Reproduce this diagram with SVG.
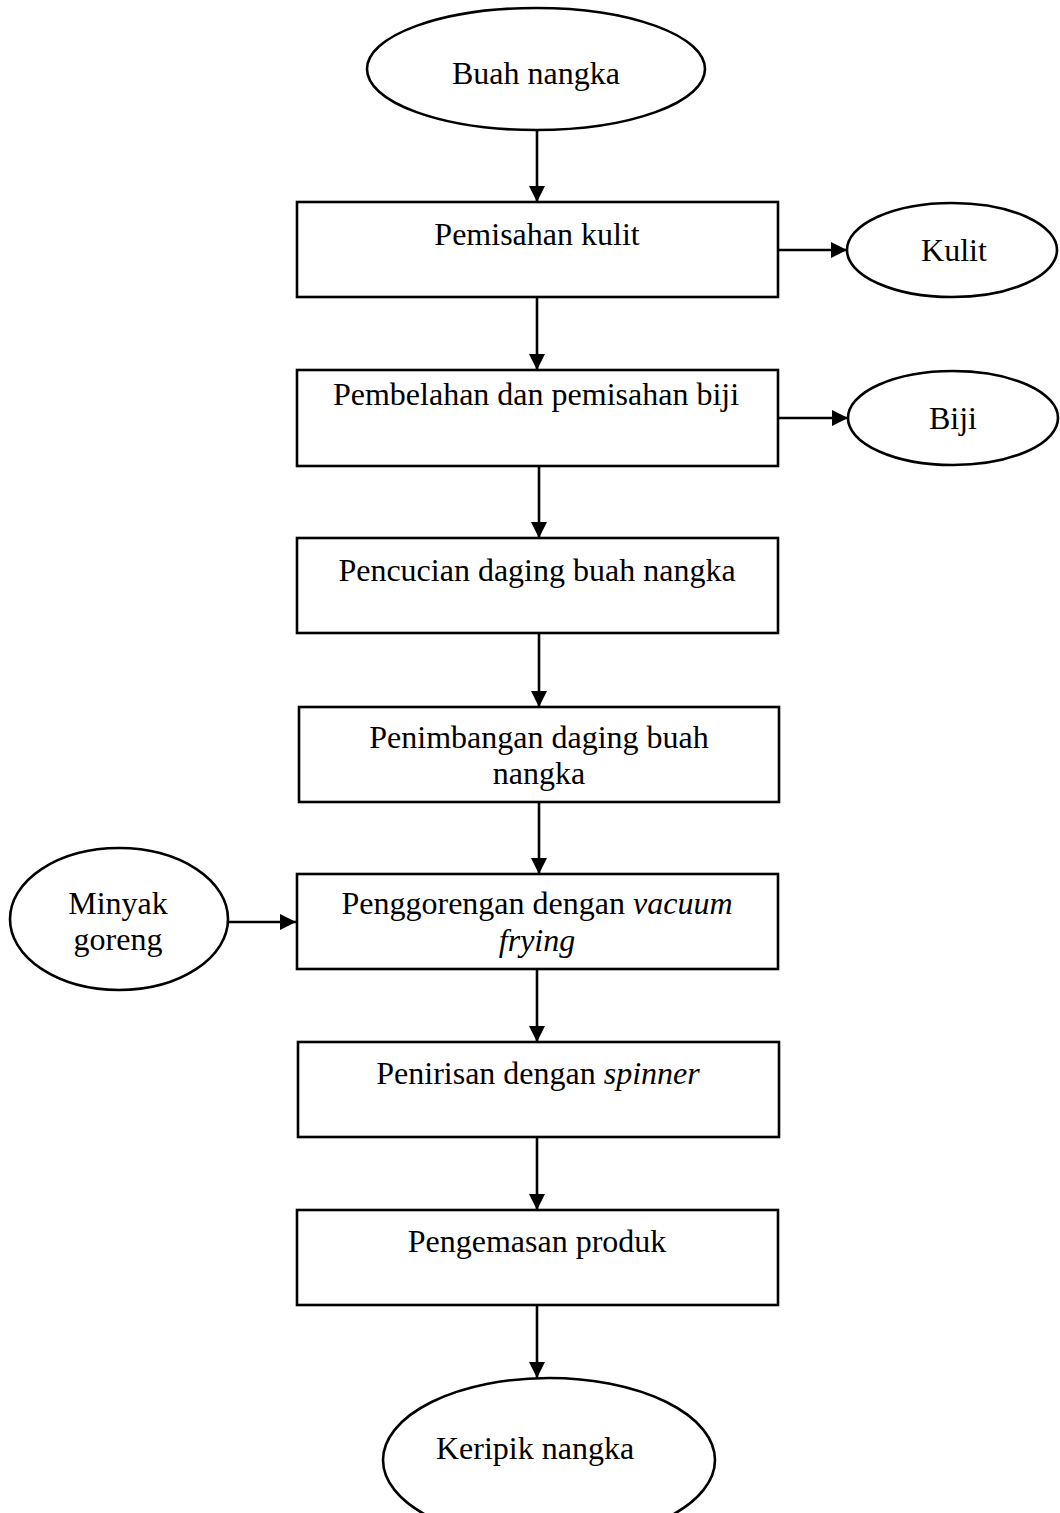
<svg xmlns="http://www.w3.org/2000/svg" width="1060" height="1513" viewBox="0 0 1060 1513">
<defs>
<marker id="ah" markerUnits="userSpaceOnUse" markerWidth="16" markerHeight="16" viewBox="0 0 16 16" refX="16" refY="8" orient="auto">
<path d="M0,0 L16,8 L0,16 Z" fill="#000"/>
</marker>
<style>
.s{fill:#fff;stroke:#000;stroke-width:2.6}
.t{font-family:"Liberation Serif","Times New Roman",serif;font-size:32px;fill:#000;text-anchor:middle}
.c{stroke:#000;stroke-width:2.6;fill:none;marker-end:url(#ah)}
</style>
</defs>
<rect width="1060" height="1513" fill="#fff"/>
<g id="connectors">
<line class="c" x1="537" y1="130" x2="537" y2="202"/>
<line class="c" x1="537" y1="297" x2="537" y2="370"/>
<line class="c" x1="539" y1="466" x2="539" y2="538"/>
<line class="c" x1="539" y1="633" x2="539" y2="707"/>
<line class="c" x1="539" y1="802" x2="539" y2="874"/>
<line class="c" x1="537" y1="969" x2="537" y2="1042"/>
<line class="c" x1="537" y1="1137" x2="537" y2="1210"/>
<line class="c" x1="537" y1="1305" x2="537" y2="1378"/>
<line class="c" x1="778" y1="250" x2="847" y2="250"/>
<line class="c" x1="778" y1="418" x2="848" y2="418"/>
<line class="c" x1="228" y1="922" x2="296" y2="922"/>
</g>
<g id="n-buah">
<ellipse class="s" cx="536" cy="69" rx="169" ry="61"/>
<text class="t" x="536" y="84">Buah nangka</text>
</g>
<g id="n-pemisahan">
<rect class="s" x="297" y="202" width="481" height="95"/>
<text class="t" x="537" y="245">Pemisahan kulit</text>
</g>
<g id="n-kulit">
<ellipse class="s" cx="952" cy="250" rx="105" ry="47"/>
<text class="t" x="954" y="261">Kulit</text>
</g>
<g id="n-pembelahan">
<rect class="s" x="297" y="370" width="481" height="96"/>
<text class="t" x="536" y="405">Pembelahan dan pemisahan biji</text>
</g>
<g id="n-biji">
<ellipse class="s" cx="953" cy="418" rx="105" ry="47"/>
<text class="t" x="953" y="429">Biji</text>
</g>
<g id="n-pencucian">
<rect class="s" x="297" y="538" width="481" height="95"/>
<text class="t" x="537" y="581">Pencucian daging buah nangka</text>
</g>
<g id="n-penimbangan">
<rect class="s" x="299" y="707" width="480" height="95"/>
<text class="t" x="539" y="748">Penimbangan daging buah</text>
<text class="t" x="539" y="784">nangka</text>
</g>
<g id="n-minyak">
<ellipse class="s" cx="119" cy="919" rx="109" ry="71"/>
<text class="t" x="118" y="914">Minyak</text>
<text class="t" x="118" y="950">goreng</text>
</g>
<g id="n-penggorengan">
<rect class="s" x="297" y="874" width="481" height="95"/>
<text class="t" x="537" y="914">Penggorengan dengan <tspan font-style="italic">vacuum</tspan></text>
<text class="t" x="537" y="951" font-style="italic">frying</text>
</g>
<g id="n-penirisan">
<rect class="s" x="298" y="1042" width="481" height="95"/>
<text class="t" x="538" y="1084">Penirisan dengan <tspan font-style="italic">spinner</tspan></text>
</g>
<g id="n-pengemasan">
<rect class="s" x="297" y="1210" width="481" height="95"/>
<text class="t" x="537" y="1252">Pengemasan produk</text>
</g>
<g id="n-keripik">
<ellipse class="s" cx="549" cy="1460" rx="166" ry="82"/>
<text class="t" x="535" y="1459">Keripik nangka</text>
</g>
</svg>
